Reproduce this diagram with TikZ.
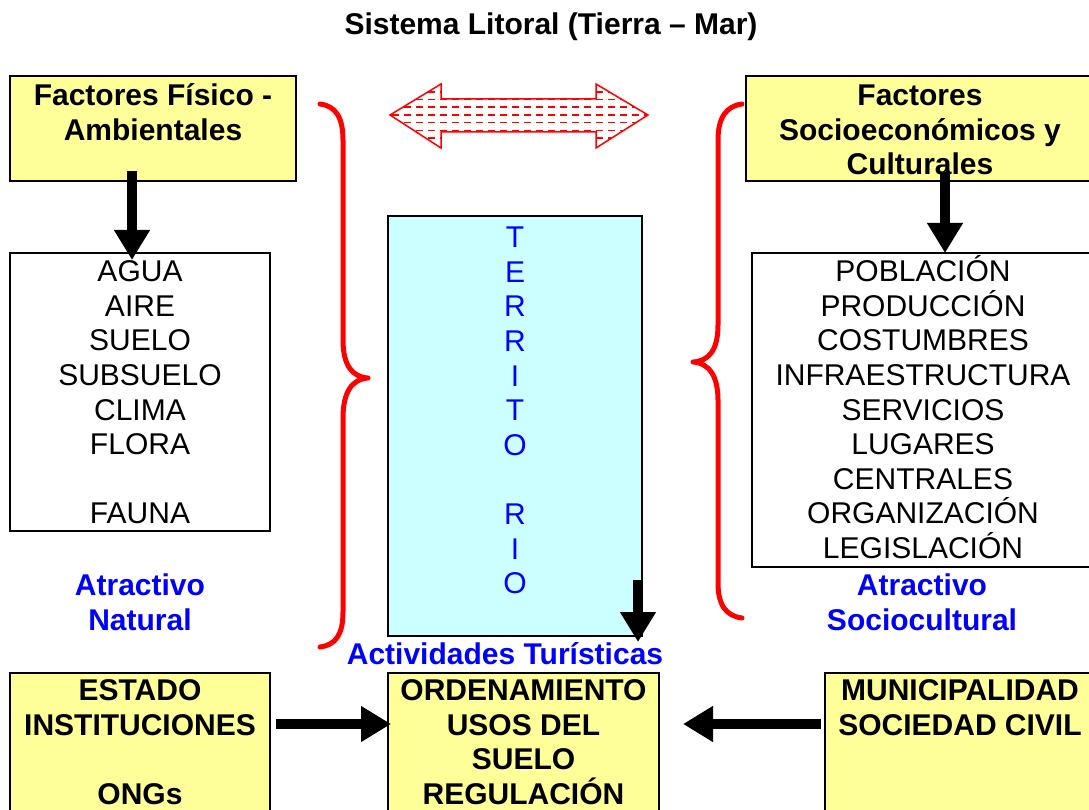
\documentclass[tikz,border=0pt]{standalone}
\usepackage{fontspec}
\setmainfont{Liberation Sans}
\usetikzlibrary{arrows.meta}
\newcommand{\bigtext}{\fontsize{30}{34.6}\selectfont}
\definecolor{boxyellow}{HTML}{FFFF99}
\definecolor{boxcyan}{HTML}{CCFFFF}
\tikzstyle{factor} = [rectangle, draw=black, line width=2pt, fill=boxyellow, font=\bigtext\bfseries, align=center, anchor=north, inner sep=0pt]
\tikzstyle{itembox} = [rectangle, draw=black, line width=2pt, fill=white, font=\bigtext, align=center, anchor=north, inner sep=0pt]
\tikzstyle{attract} = [font=\bigtext\bfseries, text=blue, align=center, inner sep=0pt, anchor=base]
\tikzstyle{bigarrow} = [line width=10pt, -{Triangle[length=30pt,width=34pt]}]
\tikzstyle{brace} = [draw=red, line width=5pt, line join=round, line cap=round]

\begin{document}
\begin{tikzpicture}[x=1pt, y=-1pt]
\useasboundingbox (0,0) rectangle (1089,810);

\node (titulo) [font=\bigtext\bfseries, anchor=base] at (551,34.7) {Sistema Litoral (Tierra – Mar)};

\node (fisicos) [factor, minimum width=286pt, text height=64.3pt, text depth=40.7pt] at (153,75) {Factores Físico -\\Ambientales};
\node (socio) [factor, minimum width=348pt, text height=98.9pt, text depth=6.1pt] at (920,75) {Factores\\Socioeconómicos y\\Culturales};

\node (naturales) [itembox, minimum width=260pt, text height=270.9pt, text depth=7.1pt] at (140,252) {AGUA\\AIRE\\SUELO\\SUBSUELO\\CLIMA\\FLORA\\[34.6pt]FAUNA};
\node (sociales) [itembox, minimum width=342pt, text height=305.5pt, text depth=8.5pt] at (923,252) {POBLACIÓN\\PRODUCCIÓN\\COSTUMBRES\\INFRAESTRUCTURA\\SERVICIOS\\LUGARES\\CENTRALES\\ORGANIZACIÓN\\LEGISLACIÓN};
\node (territorio) [itembox, fill=boxcyan, text=blue, minimum width=254pt, text height=377.7pt, text depth=42.3pt] at (515,215) {T\\E\\R\\R\\I\\T\\O\\[34.6pt]R\\I\\O};

\node (natural) [attract] at (140,630.3) {Atractivo\\Natural};
\node (sociocultural) [attract] at (922,630.3) {Atractivo\\Sociocultural};
\node (actividades) [attract] at (505,664.7) {Actividades Turísticas};

\node (estado) [factor, minimum width=260pt, text height=131.3pt, text depth=16.7pt] at (140,672) {ESTADO\\INSTITUCIONES\\[34.6pt]ONGs};
\node (ordenamiento) [factor, minimum width=271pt, text height=131.3pt, text depth=16.7pt] at (523.5,672) {ORDENAMIENTO\\USOS DEL\\SUELO\\REGULACIÓN};
\node (municipio) [factor, minimum width=270pt, text height=62.1pt, text depth=85.9pt] at (960,672) {MUNICIPALIDAD\\SOCIEDAD CIVIL};

\draw [brace] (320,104) .. controls (336,106) and (343,118) .. (343,140) -- (343,340) .. controls (343,365) and (352,377) .. (368,378) .. controls (352,379) and (343,392) .. (343,418) -- (343,612) .. controls (343,634) and (336,645) .. (320,647);
\draw [brace] (742,104) .. controls (726,106) and (718,118) .. (718,140) -- (718,325) .. controls (718,350) and (709,361) .. (693,362) .. controls (709,363) and (718,376) .. (718,400) -- (718,583) .. controls (718,605) and (726,616) .. (742,618);

\begin{scope}
\clip (390,115) -- (441,84) -- (441,99) -- (596,99) -- (596,84) -- (648,115) -- (596,148) -- (596,132) -- (441,132) -- (441,148) -- cycle;
\foreach \i in {-3,...,3}
  \draw [red, line width=1.6pt, dash pattern=on 7pt off 5pt] (392,{115+7.7*\i}) -- (648,{115+7.7*\i});
\end{scope}
\draw [red, line width=1.5pt] (390,115) -- (441,84) -- (441,99) -- (596,99) -- (596,84) -- (648,115) -- (596,148) -- (596,132) -- (441,132) -- (441,148) -- cycle;

\draw [bigarrow] ([xshift=-21pt,yshift=11pt]fisicos.south) -- ([xshift=-8pt,yshift=-8pt]naturales.north);
\draw [bigarrow] ([xshift=25pt,yshift=10pt]socio.south) -- ([xshift=22pt,yshift=-1pt]sociales.north);
\draw [bigarrow] ([xshift=-5pt,yshift=57pt]territorio.south east) -- ([xshift=-5pt,yshift=-5pt]territorio.south east);
\draw [bigarrow] ([xshift=5pt,yshift=23pt]estado.east) -- ([xshift=4pt,yshift=23pt]ordenamiento.west);
\draw [bigarrow] ([xshift=-3pt,yshift=23pt]municipio.west) -- ([xshift=23pt,yshift=23pt]ordenamiento.east);

\end{tikzpicture}
\end{document}
